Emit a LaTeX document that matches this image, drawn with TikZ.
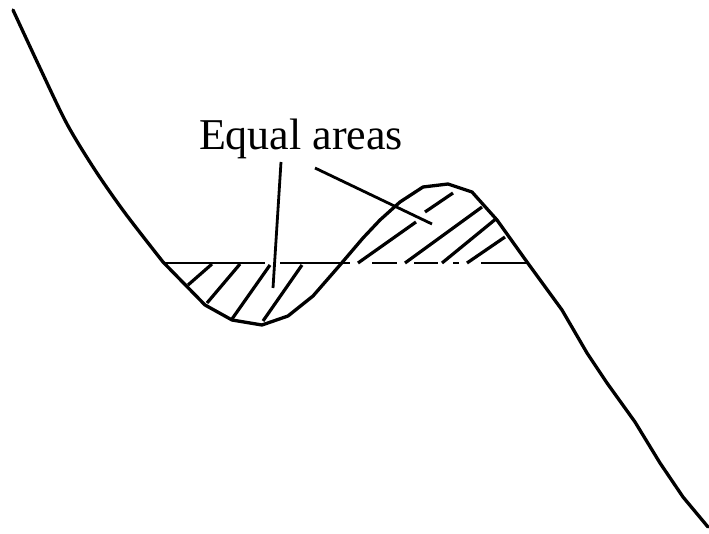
\documentclass[tikz,border=0pt]{standalone}
\usepackage{fontspec}
\setmainfont{Liberation Serif}
\usetikzlibrary{positioning}
\tikzset{
  isotherm/.style = {draw=black, line width=3.3pt, line join=round, line cap=round},
  hatch/.style    = {draw=black, line width=3.2pt, line cap=butt},
  level/.style    = {draw=black, line width=2.4pt},
  leader/.style   = {draw=black, line width=2.8pt},
  lbl/.style      = {font=\fontsize{44}{50}\selectfont, inner sep=0pt, anchor=base},
}
\begin{document}
\begin{tikzpicture}[x=1pt, y=-1pt]
\useasboundingbox (0,0) rectangle (709,534);

% the curve
\draw[isotherm] plot[smooth, tension=0.5] coordinates {(13,10) (40,68) (67,124) (95,170) (125,213) (163,262)}
  -- (205,305) -- (232,320) -- (262,325) -- (288,316) -- (313,296)
  -- (340,265) -- (363,238) -- (380,220) -- (400,202) -- (423,187) -- (448,184)
  -- (472,192) -- (497,220) -- (527,262) -- (562,310) -- (587,353) -- (607,383)
  -- (635,422) -- (660,463) -- (683,497) -- (708,527);

% horizontal line, broken at the crossings
\draw[level] (163,263) -- (265,263);
\draw[level] (280,263) -- (350,263);
\draw[level] (372,263) -- (397,263);
\draw[level] (414,263) -- (438,263);
\draw[level] (453,263) -- (459,263);
\draw[level] (481,263) -- (527,263);

% hatching below the line
\draw[hatch] (212,264) -- (188,285);
\draw[hatch] (240,264) -- (207,303);
\draw[hatch] (270,265) -- (232,319);
\draw[hatch] (302,265) -- (263,321);

% hatching above the line
\draw[hatch] (358,263) -- (416,222);
\draw[hatch] (425,212) -- (453,193);
\draw[hatch] (405,263) -- (482,207);
\draw[hatch] (442,263) -- (497,218);
\draw[hatch] (467,263) -- (505,237);

\node[lbl] (eq) at (301,150) {Equal areas};
\coordinate (lfrom) at (281,162);
\coordinate (lto) at (273,288);
\coordinate (rfrom) at (315,168);
\coordinate (rto) at (432,224);
\draw[leader] (lfrom) -- (lto);
\draw[leader] (rfrom) -- (rto);

\end{tikzpicture}
\end{document}
